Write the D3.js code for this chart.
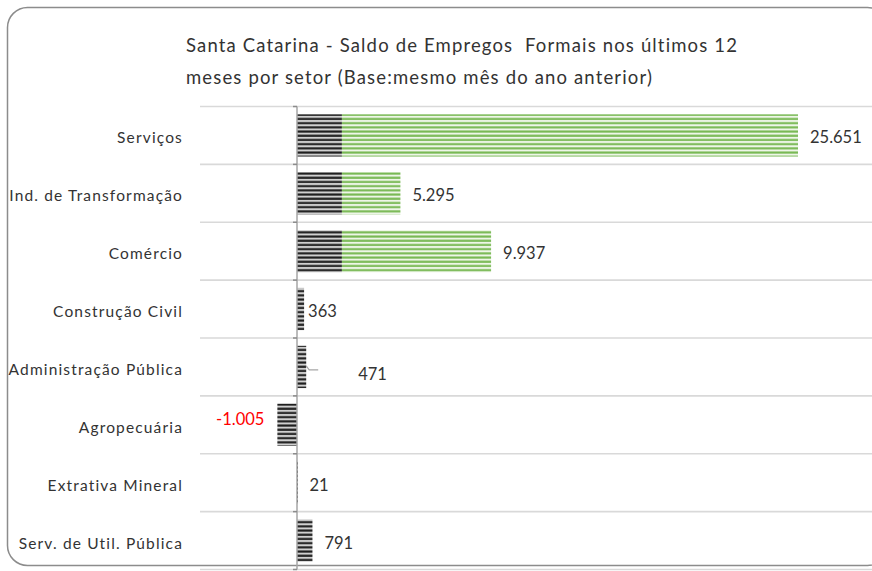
<!DOCTYPE html>
<html>
<head>
<meta charset="utf-8">
<script src="https://cdn.jsdelivr.net/npm/d3@7/dist/d3.min.js"></script>
<style>
  html, body { margin: 0; padding: 0; background: #ffffff; }
  svg { display: block; }
  text { font-family: Lato, "Open Sans", sans-serif; fill: #333333; }
</style>
</head>
<body>
<svg id="chart" width="872" height="571"></svg>
<script>
// Setores e saldo de empregos formais (12 meses)
const setores = [
  "Serviços",
  "Ind. de Transformação",
  "Comércio",
  "Construção Civil",
  "Administração Pública",
  "Agropecuária",
  "Extrativa Mineral",
  "Serv. de Util. Pública"
];
const saldo = [25651, 5295, 9937, 363, 471, -1005, 21, 791];
const rotulos = ["25.651", "5.295", "9.937", "363", "471", "-1.005", "21", "791"];
// trecho escuro de cada barra (até este valor), restante em verde
const trechoEscuro = 2300;
const titulo = [
  "Santa Catarina - Saldo de Empregos  Formais nos últimos 12",
  "meses por setor (Base:mesmo mês do ano anterior)"
];

const svg = d3.select("#chart");
const W = 872, H = 571;

// moldura arredondada
svg.append("rect")
  .attr("x", 7.5).attr("y", 7.5)
  .attr("width", 880).attr("height", 558)
  .attr("rx", 20).attr("ry", 20)
  .attr("fill", "#fff")
  .attr("stroke", "#8c8c8c").attr("stroke-width", 1.5);

// padrões listrados
const defs = svg.append("defs");
function listras(id, fundo, linha) {
  const p = defs.append("pattern")
    .attr("id", id).attr("patternUnits", "userSpaceOnUse")
    .attr("width", 8).attr("height", 4.2);
  p.append("rect").attr("width", 8).attr("height", 4.2).attr("fill", fundo);
  p.append("rect").attr("y", 0.3).attr("width", 8).attr("height", 2.1).attr("fill", linha);
}
listras("escuro", "#d0d0d0", "#1e1e1e");
listras("verde", "#eef6e8", "#78b954");

// título
svg.append("g").selectAll("text")
  .data(titulo).join("text")
  .attr("x", 186).attr("y", (d, i) => 52 + i * 32)
  .attr("font-size", 18.5)
  .attr("letter-spacing", 1.15)
  .style("white-space", "pre")
  .text(d => d);

// escalas
const x = d3.scaleLinear().domain([0, 25651]).range([297, 798]);
const y = d3.scaleBand().domain(setores).range([106.5, 569.5]).paddingInner(0.27).paddingOuter(0.135);
const bordas = d3.range(setores.length + 1).map(i => 106.5 + i * ((569.5 - 106.5) / setores.length));

// linhas de grade entre categorias
svg.append("g").selectAll("line")
  .data(bordas).join("line")
  .attr("x1", 200).attr("x2", W)
  .attr("y1", d => d).attr("y2", d => d)
  .attr("stroke", "#d9d9d9").attr("stroke-width", 1.6);

// barras
const dados = setores.map((s, i) => ({ s, v: saldo[i], r: rotulos[i] }));
const gB = svg.append("g");
dados.forEach(d => {
  const esc = d.v >= 0 ? Math.min(d.v, trechoEscuro) : d.v;
  const x0 = Math.min(x(0), x(esc)), x1 = Math.max(x(0), x(esc));
  gB.append("rect")
    .attr("x", x0).attr("y", y(d.s))
    .attr("width", Math.max(x1 - x0, 1)).attr("height", y.bandwidth())
    .attr("fill", "url(#escuro)");
  if (d.v > trechoEscuro) {
    gB.append("rect")
      .attr("x", x(trechoEscuro)).attr("y", y(d.s))
      .attr("width", x(d.v) - x(trechoEscuro)).attr("height", y.bandwidth())
      .attr("fill", "url(#verde)");
  }
});

// eixo vertical com marcas nas bordas
svg.append("line")
  .attr("x1", x(0)).attr("x2", x(0))
  .attr("y1", bordas[0]).attr("y2", bordas[bordas.length - 1])
  .attr("stroke", "#a6a6a6").attr("stroke-width", 1.5);
svg.append("g").selectAll("line")
  .data(bordas).join("line")
  .attr("x1", x(0) - 4).attr("x2", x(0))
  .attr("y1", d => d).attr("y2", d => d)
  .attr("stroke", "#8c8c8c").attr("stroke-width", 1.5);

// rótulos das categorias
svg.append("g").selectAll("text")
  .data(setores).join("text")
  .attr("x", 183).attr("y", d => y(d) + y.bandwidth() / 2 + 8)
  .attr("text-anchor", "end").attr("font-size", 15.5)
  .attr("letter-spacing", 1.15)
  .text(d => d);

// rótulos de valor (alguns deslocados manualmente)
const desloc = { "Construção Civil": [-8, 0], "Administração Pública": [40, 5], "Agropecuária": [0, -8] };
const gL = svg.append("g");
dados.forEach(d => {
  const [dx, dy] = desloc[d.s] || [0, 0];
  const cy = y(d.s) + y.bandwidth() / 2;
  const neg = d.v < 0;
  gL.append("text")
    .attr("x", neg ? x(d.v) - 13 : x(d.v) + 12 + dx)
    .attr("y", cy + 8 + dy)
    .attr("text-anchor", neg ? "end" : "start")
    .attr("font-size", 16.5)
    .style("fill", neg ? "#ff0000" : "#333333")
    .text(d.r);
  if (d.s === "Administração Pública") {
    const xe = x(d.v);
    gL.append("polyline")
      .attr("points", [[xe, cy - 1], [xe + 3, cy + 3], [xe + 12, cy + 3]].map(p => p.join(",")).join(" "))
      .attr("fill", "none").attr("stroke", "#a6a6a6").attr("stroke-width", 1.2);
  }
});
</script>
</body>
</html>
